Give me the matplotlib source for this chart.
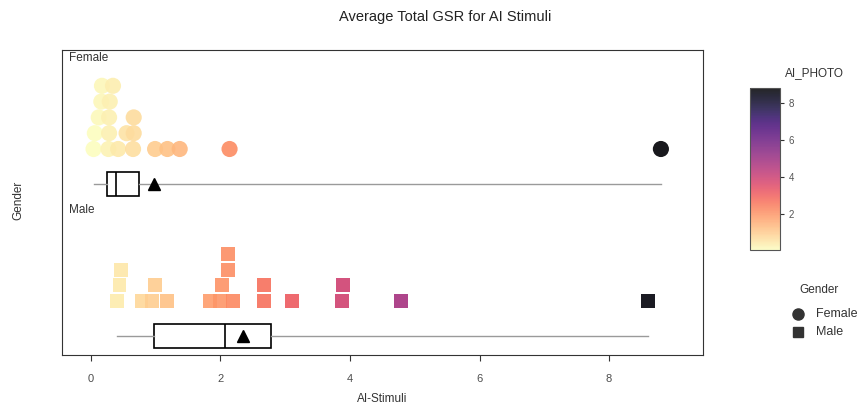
import numpy as np
import matplotlib
matplotlib.use("Agg")
import matplotlib.pyplot as plt
from matplotlib.lines import Line2D
from matplotlib.colors import Normalize
from matplotlib.cm import ScalarMappable

plt.rcParams["font.family"] = ["Liberation Sans", "DejaVu Sans"]

# average total GSR per participant, AI stimuli
female = [0.04, 0.06, 0.12, 0.16, 0.17, 0.27, 0.28, 0.28, 0.29, 0.34,
          0.42, 0.55, 0.65, 0.66, 0.66, 0.99, 1.18, 1.37, 2.14, 8.80]
male = [0.40, 0.44, 0.46, 0.78, 0.94, 0.99, 1.17, 1.84, 1.99, 2.03,
        2.11, 2.12, 2.20, 2.67, 2.67, 3.10, 3.87, 3.89, 4.79, 8.60]
groups = ["Female", "Male"]
xticks = [0, 2, 4, 6, 8]
cbar_ticks = [2, 4, 6, 8]


def weave(vals, width=0.14):
    # bin greedily, stack dots in a bin but keep their own x
    vals = sorted(vals)
    xs, rows = [], []
    start, k = None, 0
    for v in vals:
        if start is None or v >= start + width:
            start, k = v, 0
        xs.append(v)
        rows.append(k)
        k += 1
    return np.array(xs), np.array(rows)


cmap = plt.get_cmap("magma_r")
norm = Normalize(min(female + male), max(female + male))

W, H = 858, 405
fig = plt.figure(figsize=(8.58, 4.05), dpi=100)
ax = fig.add_axes([62 / W, 50 / H, 641 / W, 305 / H])

# layout in panel pixel units (0 = bottom of panel)
dot_base = {"Female": 206, "Male": 54}
box_y = {"Female": 171.3, "Male": 19}
label_y = {"Female": 297, "Male": 145}
step = {"Female": 15.8, "Male": 15.6}
marker = {"Female": "o", "Male": "s"}
size = {"Female": 135, "Male": 100}

for g, vals in zip(groups, [female, male]):
    xs, rows = weave(vals)
    ax.scatter(xs, dot_base[g] + rows * step[g], c=xs, cmap=cmap, norm=norm,
               marker=marker[g], s=size[g], alpha=0.9, linewidths=0, zorder=3)
    ax.boxplot([vals], positions=[box_y[g]], vert=False, widths=24, whis=(0, 100),
               patch_artist=True, showmeans=True, manage_ticks=False,
               boxprops=dict(facecolor="white", edgecolor="black", linewidth=1.2),
               medianprops=dict(color="black", linewidth=1.2),
               whiskerprops=dict(color="#9a9a9a", linewidth=1),
               capprops=dict(linewidth=0),
               meanprops=dict(marker="^", markerfacecolor="black",
                              markeredgecolor="black", markersize=9))
    ax.text(7 / 641, label_y[g] / 305, g, transform=ax.transAxes,
            fontsize=8.5, color="#333333", va="center")

ax.set_xlim(-0.447, 9.45)
ax.set_ylim(0, 305)
ax.set_yticks([])
ax.set_xticks(xticks)
ax.tick_params(axis="x", length=4, width=0.8, color="#333333", labelcolor="#4d4d4d",
               labelsize=8, pad=10)
for s in ax.spines.values():
    s.set_color("#333333")
    s.set_linewidth(0.8)

fig.text(445 / W, 1 - 17 / H, "Average Total GSR for AI Stimuli",
         ha="center", va="center", fontsize=10.5, color="#222222")
ax.set_xlabel("AI-Stimuli", fontsize=8.5, color="#333333", labelpad=6)
fig.text(18 / W, 1 - 200 / H, "Gender", rotation=90, ha="center", va="center",
         fontsize=8.5, color="#333333")

# colour bar
cax = fig.add_axes([750 / W, 155 / H, 30 / W, 162 / H])
sm = ScalarMappable(norm=norm, cmap=cmap)
cb = fig.colorbar(sm, cax=cax, ticks=cbar_ticks)
cb.solids.set_alpha(0.85)
cb.outline.set_edgecolor("#555555")
cb.outline.set_linewidth(0.8)
cax.tick_params(length=3, width=0.8, color="#333333", labelsize=7,
                labelcolor="#555555", pad=3)
fig.text(785 / W, 1 - 73 / H, "AI_PHOTO", fontsize=8.5, color="#333333",
         va="center")

# shape legend
fig.text(799 / W, 1 - 290 / H, "Gender", fontsize=8.5, color="#333333", va="center")
for g, ypx in zip(groups, [314, 332]):
    fig.add_artist(Line2D([798 / W], [1 - ypx / H], marker=marker[g], ls="",
                          color="#333333", markersize=8 if g == "Female" else 7,
                          transform=fig.transFigure))
    fig.text(816 / W, 1 - ypx / H, g, fontsize=9, color="#333333", va="center")

fig.savefig("out.png", dpi=100)
